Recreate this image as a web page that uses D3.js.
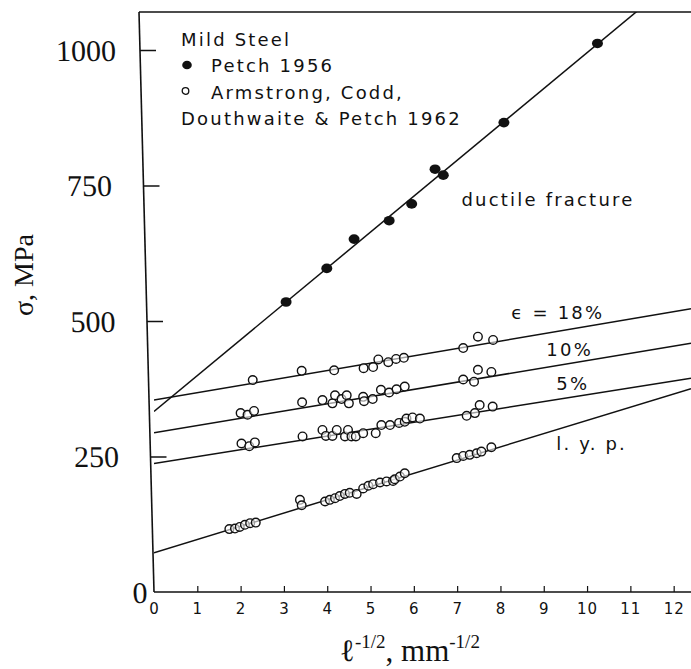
<!DOCTYPE html>
<html>
<head>
<meta charset="utf-8">
<script src="https://cdn.jsdelivr.net/npm/d3@7"></script>
<style>
  body { margin: 0; background: #fff; }
  svg { display: block; }
  .sans { font-family: 'DejaVu Sans', sans-serif; fill: #111; }
  .serif { font-family: 'Liberation Serif', 'Times New Roman', serif; fill: #111; }
</style>
</head>
<body>
<div id="chart"></div>
<script>
// tick labels
var xTicks = [0, 1, 2, 3, 4, 5, 6, 7, 8, 9, 10, 11, 12];
var yTicks = [0, 250, 500, 750, 1000];

// Petch 1956, filled dots
var petchPoints = [
  [3.05, 535], [3.99, 597], [4.62, 651], [5.43, 685], [5.95, 716],
  [6.49, 780], [6.68, 769], [8.08, 866], [10.24, 1012]
];

// Armstrong, Codd, Douthwaite & Petch 1962, open dots
var strain18Points = [
  [2.28, 391], [3.41, 408], [4.16, 409], [4.84, 413], [5.06, 415], [5.18, 429],
  [5.41, 424], [5.59, 430], [5.77, 432], [7.14, 450], [7.48, 471], [7.83, 465]
];
var strain10Points = [
  [2.0, 330], [2.16, 327], [2.31, 334], [3.42, 350], [3.89, 354], [4.12, 348],
  [4.18, 363], [4.33, 356], [4.45, 363], [4.5, 348], [4.83, 360], [4.85, 352],
  [5.05, 356], [5.24, 373], [5.43, 368], [5.6, 374], [5.79, 379],
  [7.14, 392], [7.39, 388], [7.48, 410], [7.79, 406]
];
var strain5Points = [
  [2.02, 274], [2.2, 269], [2.33, 276], [3.43, 287], [3.89, 299], [3.97, 288],
  [4.12, 288], [4.22, 299], [4.41, 287], [4.48, 299], [4.56, 287], [4.66, 287],
  [4.83, 293], [5.12, 293], [5.25, 308], [5.45, 308], [5.66, 312], [5.79, 314],
  [5.83, 320], [5.97, 322], [6.14, 320], [7.22, 325], [7.41, 330], [7.52, 345],
  [7.82, 342]
];
var lypPoints = [
  [1.74, 116], [1.87, 117], [1.98, 120], [2.1, 124], [2.22, 127], [2.35, 128],
  [3.37, 170], [3.41, 160], [3.95, 167], [4.06, 170], [4.18, 173], [4.29, 177],
  [4.41, 181], [4.52, 183], [4.68, 181], [4.83, 191], [4.95, 196], [5.06, 199],
  [5.22, 202], [5.37, 204], [5.52, 205], [5.56, 208], [5.68, 213], [5.79, 219],
  [6.99, 247], [7.14, 251], [7.29, 253], [7.45, 256], [7.56, 259], [7.79, 267]
];

// straight-line fits drawn through each set: sigma = intercept + slope * x
var fitNames = ['petch', 'e18', 'e10', 'e5', 'lyp'];
var fitIntercepts = [333, 354, 294, 237, 72.5];
var fitSlopes = [66.2, 13.6, 13.3, 12.7, 24.4];

var legendLines = ['Mild Steel', 'Petch 1956', 'Armstrong, Codd,', 'Douthwaite & Petch 1962'];

var width = 691, height = 669;
var plot = { left: 154, right: 691, top: 12, bottom: 592 };

var x = d3.scaleLinear().domain([0, 12.4]).range([plot.left, plot.right]);
var y = d3.scaleLinear().domain([0, 1070]).range([plot.bottom, plot.top]);

var svg = d3.select('#chart').append('svg')
  .attr('width', width)
  .attr('height', height);

svg.append('clipPath').attr('id', 'plot-clip')
  .append('rect')
  .attr('x', plot.left)
  .attr('y', plot.top)
  .attr('width', plot.right - plot.left)
  .attr('height', plot.bottom - plot.top);

// the scanned y axis leans a little to the left at the top
var lean = Math.atan(15 / (plot.bottom - plot.top)) * 180 / Math.PI;
var yAxisG = svg.append('g')
  .attr('transform', 'translate(' + plot.left + ',' + plot.bottom + ') skewX(' + lean + ') translate(0,' + (-plot.bottom) + ')');

yAxisG.call(d3.axisRight(y).tickValues(yTicks).tickSize(16).tickFormat(d3.format('d')))
  .call(function(g) {
    g.select('.domain').attr('d', 'M0,' + plot.bottom + 'V' + plot.top).attr('stroke', '#111').attr('stroke-width', 1.6);
    g.selectAll('.tick line').attr('stroke', '#111').attr('stroke-width', 1.5)
      .attr('x2', function(d) { return d === 0 ? 0 : 16; });
    g.selectAll('.tick text')
      .attr('class', 'serif')
      .attr('font-size', 30)
      .attr('text-anchor', 'middle')
      .attr('x', function(d) { return d === 0 ? -14 : -54; })
      .attr('dy', '0.34em');
  });

// top frame line
yAxisG.append('line')
  .attr('x1', 0).attr('x2', plot.right - plot.left + 20)
  .attr('y1', y(1070)).attr('y2', y(1070))
  .attr('stroke', '#111').attr('stroke-width', 1.4);

var xAxisG = svg.append('g')
  .attr('transform', 'translate(0,' + plot.bottom + ')')
  .call(d3.axisTop(x).tickValues(xTicks).tickSize(6).tickFormat(d3.format('d')))
  .call(function(g) {
    g.select('.domain').attr('d', 'M' + plot.left + ',0H' + plot.right).attr('stroke', '#111').attr('stroke-width', 1.6);
    g.selectAll('.tick line').attr('stroke', '#111').attr('stroke-width', 1.2)
      .attr('y2', function(d) { return d === 0 ? 0 : -6; });
    g.selectAll('.tick text')
      .attr('class', 'sans')
      .attr('font-size', 15)
      .attr('letter-spacing', 1)
      .attr('y', 22)
      .attr('dy', 0);
  });

// fit lines
var fits = fitNames.map(function(name, i) {
  return { name: name, a: fitIntercepts[i], b: fitSlopes[i] };
});
svg.append('g')
  .attr('clip-path', 'url(#plot-clip)')
  .selectAll('line.fit')
  .data(fits)
  .enter()
  .append('line')
  .attr('class', 'fit')
  .attr('x1', x(0))
  .attr('y1', function(d) { return y(d.a); })
  .attr('x2', x(12.4))
  .attr('y2', function(d) { return y(d.a + d.b * 12.4); })
  .attr('stroke', '#111')
  .attr('stroke-width', 1.5);

// data points
var openPoints = strain18Points.concat(strain10Points, strain5Points, lypPoints);
svg.append('g').selectAll('circle')
  .data(openPoints)
  .enter()
  .append('circle')
  .attr('cx', function(d) { return x(d[0]); })
  .attr('cy', function(d) { return y(d[1]); })
  .attr('r', 4.3)
  .attr('fill', '#fff')
  .attr('fill-opacity', 0.6)
  .attr('stroke', '#111')
  .attr('stroke-width', 1.4);

svg.append('g').selectAll('ellipse')
  .data(petchPoints)
  .enter()
  .append('ellipse')
  .attr('cx', function(d) { return x(d[0]); })
  .attr('cy', function(d) { return y(d[1]); })
  .attr('rx', 5.5)
  .attr('ry', 4.8)
  .attr('fill', '#111');

// curve labels
var curveLabels = [
  { text: 'ductile fracture', x: 7.1, y: 712 },
  { text: '\u03f5 = 18%', x: 8.25, y: 503 },
  { text: '10%', x: 9.06, y: 436 },
  { text: '5%', x: 9.29, y: 373 },
  { text: 'l. y. p.', x: 9.29, y: 262 }
];
svg.append('g').selectAll('text')
  .data(curveLabels)
  .enter()
  .append('text')
  .attr('class', 'sans')
  .attr('font-size', 18)
  .attr('letter-spacing', 2.2)
  .attr('x', function(d) { return x(d.x); })
  .attr('y', function(d) { return y(d.y); })
  .text(function(d) { return d.text; });

// legend
var legend = svg.append('g').attr('transform', 'translate(' + (plot.left + 27) + ',46)');
legend.selectAll('text')
  .data(legendLines)
  .enter()
  .append('text')
  .attr('class', 'sans')
  .attr('font-size', 18)
  .attr('letter-spacing', 2.2)
  .attr('x', function(d, i) { return (i === 1 || i === 2) ? 30 : 0; })
  .attr('y', function(d, i) { return i * 26.3; })
  .text(function(d) { return d; });
legend.append('ellipse')
  .attr('cx', 6).attr('cy', 19).attr('rx', 4.8).attr('ry', 4.3)
  .attr('fill', '#111');
legend.append('circle')
  .attr('cx', 4.5).attr('cy', 45).attr('r', 3.3)
  .attr('fill', 'none').attr('stroke', '#111').attr('stroke-width', 1.3);

// axis titles
svg.append('text')
  .attr('class', 'serif')
  .attr('font-size', 28)
  .attr('text-anchor', 'middle')
  .attr('transform', 'translate(33,275) rotate(-90)')
  .text('\u03c3, MPa');

var xTitle = svg.append('text')
  .attr('class', 'serif')
  .attr('font-size', 31)
  .attr('text-anchor', 'middle')
  .attr('x', 410)
  .attr('y', 661);
xTitle.append('tspan').text('\u2113');
xTitle.append('tspan').attr('font-size', 19).attr('dy', -13).text('-1/2');
xTitle.append('tspan').attr('dy', 13).text(', mm');
xTitle.append('tspan').attr('font-size', 19).attr('dy', -13).text('-1/2');
</script>
</body>
</html>
